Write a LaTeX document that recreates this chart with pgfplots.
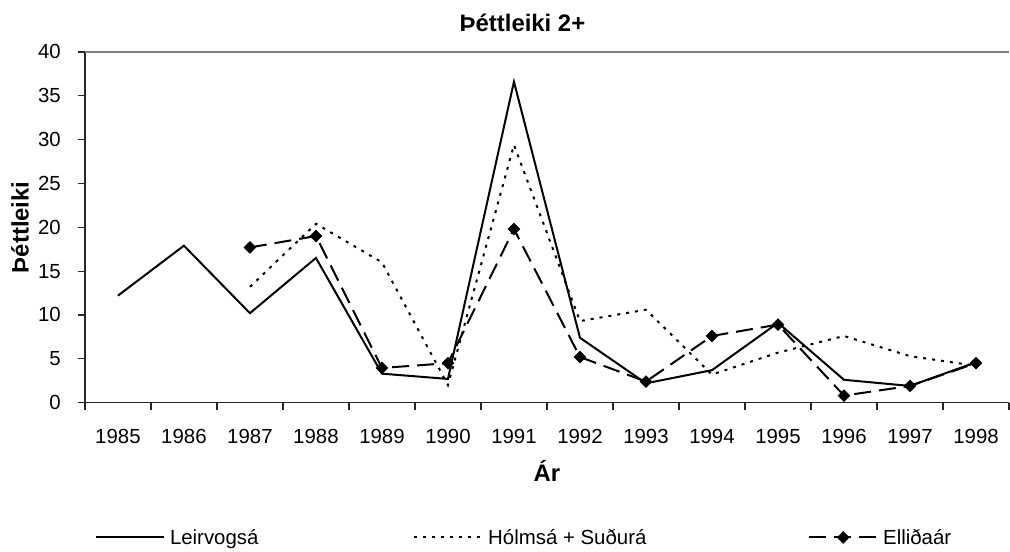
\documentclass[border=0pt]{standalone}
\usepackage{fontspec}
\setmainfont{Liberation Sans}
\usepackage{pgfplots}
\usepackage{pgfplotstable}
\pgfplotsset{compat=1.18}

\pgfplotstableread{
year val
1985 12.2
1986 17.9
1987 10.2
1988 16.5
1989 3.3
1990 2.7
1991 36.6
1992 7.4
1993 2.2
1994 3.7
1995 9.1
1996 2.6
1997 1.9
1998 4.6
}\leir

\pgfplotstableread{
year val
1987 13.2
1988 20.4
1989 16.0
1990 2.0
1991 29.4
1992 9.3
1993 10.6
1994 3.2
1995 5.7
1996 7.6
1997 5.3
1998 4.2
}\holm

\pgfplotstableread{
year val
1987 17.7
1988 19.0
1989 3.95
1990 4.5
1991 19.8
1992 5.2
1993 2.4
1994 7.6
1995 8.9
1996 0.8
1997 1.9
1998 4.5
}\ellid

\begin{document}
\begin{tikzpicture}
\begin{axis}[
  scale only axis,
  width=925bp, height=351bp,
  xmin=1984.5, xmax=1998.5, ymin=0, ymax=40,
  axis x line*=bottom, axis y line*=left,
  axis line style={line width=1.5bp, black!85},
  xtick={1985,1986,1987,1988,1989,1990,1991,1992,1993,1994,1995,1996,1997,1998},
  xticklabels={1985,1986,1987,1988,1989,1990,1991,1992,1993,1994,1995,1996,1997,1998},
  minor xtick={1984.5,1985.5,1986.5,1987.5,1988.5,1989.5,1990.5,1991.5,1992.5,1993.5,1994.5,1995.5,1996.5,1997.5,1998.5},
  ytick={0,5,10,15,20,25,30,35,40},
  /pgf/number format/assume math mode=true,
  tick align=outside,
  major tick length=7bp, minor tick length=7bp,
  major x tick style={draw=none},
  tick style={line width=1.2bp, black!85},
  extra y ticks={40}, extra y tick labels={},
  extra y tick style={grid=major, major grid style={gray, line width=2bp}, major tick length=0pt},
  tick label style={font=\fontsize{20.5}{24}\selectfont},
  xticklabel style={inner sep=0pt, anchor=north, yshift=-19bp},
  yticklabel style={inner sep=0pt, anchor=east, xshift=-17bp},
  title={Þéttleiki 2+},
  every axis title/.style={font=\bfseries\fontsize{24}{28}\selectfont, at={(axis description cs:0.5,1)}, anchor=base, xshift=-24.5bp, yshift=20.3bp, inner sep=0pt},
  xlabel={Ár},
  every axis x label/.style={font=\bfseries\fontsize{24}{28}\selectfont, at={(axis description cs:0.5,0)}, anchor=base, yshift=-78.7bp, inner sep=0pt},
  ylabel={Þéttleiki},
  every axis y label/.style={font=\bfseries\fontsize{24}{28}\selectfont, at={(axis description cs:-0.0703,0.5)}, anchor=center, rotate=90, inner sep=0pt},
  legend columns=3,
  legend style={draw=none, fill=none, font=\fontsize{20.5}{24}\selectfont,
    at={(axis description cs:0.0108,-0.3846)}, anchor=west, inner sep=0pt,
    /tikz/column 2/.style={column sep=153bp},
    /tikz/column 4/.style={column sep=160bp},
    /tikz/every odd column/.append style={column sep=3bp}},
  legend image code/.code={\draw[mark repeat=2,mark phase=2,#1] plot coordinates {(0bp,0bp) (34bp,0bp) (68bp,0bp)};},
  clip=false,
]
\addplot[black, line width=2bp] table[x=year,y=val]{\leir};
\addlegendentry{Leirvogsá}
\addplot[black, line width=2bp, line cap=butt, dash pattern=on 3bp off 6bp] table[x=year,y=val]{\holm};
\addlegendentry{Hólmsá + Suðurá}
\addplot[black, line width=2bp, dash pattern=on 17bp off 8bp, mark=square*, mark size=4.2bp, mark options={solid, rotate=45, fill=black, line width=0.5bp}] table[x=year,y=val]{\ellid};
\addlegendentry{Elliðaár}
\coordinate (bl) at (rel axis cs:0,0);
\coordinate (tr) at (rel axis cs:1,1);
\end{axis}
\path[use as bounding box] ([shift={(-85bp,-149bp)}]bl) rectangle ([shift={(0bp,52bp)}]tr);
\end{tikzpicture}
\end{document}
